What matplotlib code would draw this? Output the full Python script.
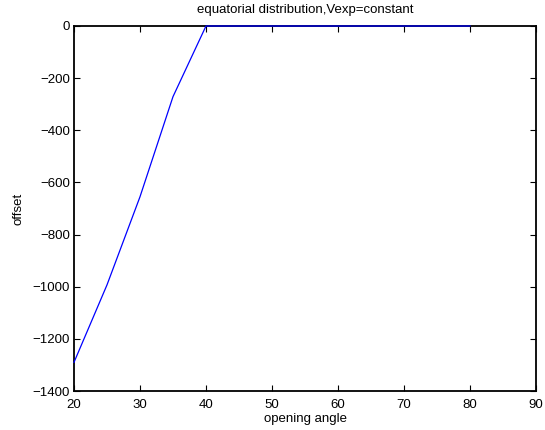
import matplotlib
matplotlib.use("Agg")
import matplotlib.pyplot as plt

# opening angle vs offset
angle = [20, 25, 30, 35, 40, 45, 50, 55, 60, 65, 70, 75, 80]
offset = [-1290, -993, -655, -271, 0, 0, 0, 0, 0, 0, 0, 0, 0]

x_ticks = [20, 30, 40, 50, 60, 70, 80, 90]
y_ticks = [-1400, -1200, -1000, -800, -600, -400, -200, 0]

plt.rcParams['font.family'] = ['Liberation Sans', 'DejaVu Sans']
plt.rcParams['font.size'] = 9.5

fig = plt.figure(figsize=(5.45, 4.3), dpi=100)
ax = fig.add_axes([74 / 545, 1 - 391 / 430, 462 / 545, 365 / 430])

ax.plot(angle, offset, color='#0000ff', linewidth=0.9, clip_on=False, zorder=3)

ax.set_xlim(20, 90)
ax.set_ylim(-1400, 0)
ax.set_xticks(x_ticks)
ax.set_yticks(y_ticks)
ax.tick_params(direction='in', length=4, width=0.8, top=True, right=True,
               labelsize=9.5, colors='black')
ax.tick_params(axis='x', pad=6)
ax.tick_params(axis='y', pad=3)
for s in ax.spines.values():
    s.set_linewidth(1.3)
    s.set_color('black')

ax.set_title('equatorial distribution,Vexp=constant', fontsize=9.5, pad=9)
ax.set_xlabel('opening angle', fontsize=9.5, labelpad=1)
ax.set_ylabel('offset', fontsize=9.5, labelpad=6)

fig.savefig('out.png', dpi=100)
